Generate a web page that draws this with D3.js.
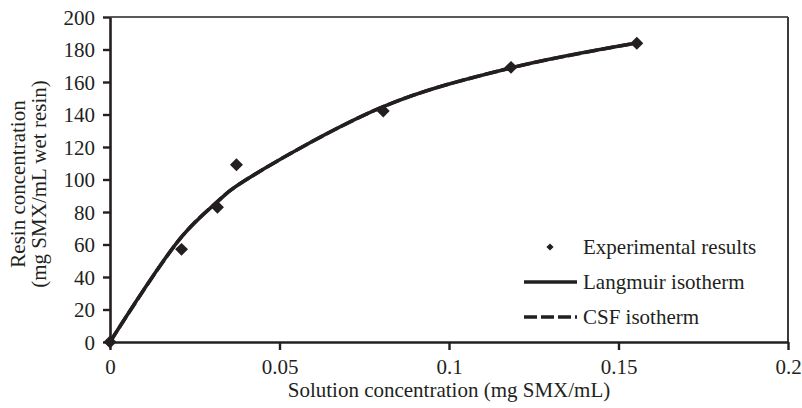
<!DOCTYPE html>
<html>
<head>
<meta charset="utf-8">
<script src="https://cdn.jsdelivr.net/npm/d3@7/dist/d3.min.js"></script>
<style>
  html, body { margin: 0; padding: 0; background: #fff; }
  svg { display: block; }
  text { font-family: "Liberation Serif", "Times New Roman", serif; fill: #231f20; }
</style>
</head>
<body>
<svg id="chart" width="802" height="408"></svg>
<script>
// Sorption of SMX on resin: measured points and fitted isotherms
const solutionConc = [0, 0.0211, 0.0317, 0.0373, 0.0806, 0.1183, 0.1554];
const experimental = [0, 57.0, 82.9, 109.1, 142.2, 169.0, 183.8];
const langmuir     = [0, 64.7, 86.4, 96.0, 144.8, 168.7, 184.0];
const csf          = [0, 64.7, 86.4, 96.0, 144.8, 168.7, 184.0];

const xTicks = [0, 0.05, 0.1, 0.15, 0.2];
const xTickLabels = ["0", "0.05", "0.1", "0.15", "0.2"];
const yTicks = [0, 20, 40, 60, 80, 100, 120, 140, 160, 180, 200];

const legendItems = ["Experimental results", "Langmuir isotherm", "CSF isotherm"];

const ink = "#231f20";
const svg = d3.select("#chart");

const plot = { left: 110, right: 788, top: 17, bottom: 342 };

const x = d3.scaleLinear().domain([0, 0.2]).range([plot.left, plot.right]);
const y = d3.scaleLinear().domain([0, 200]).range([plot.bottom, plot.top]);

// frame: top and right edges
svg.append("line")
  .attr("x1", plot.left).attr("x2", plot.right)
  .attr("y1", plot.top).attr("y2", plot.top)
  .attr("stroke", "#5a5a5a").attr("stroke-width", 2);
svg.append("line")
  .attr("x1", plot.right).attr("x2", plot.right)
  .attr("y1", plot.top).attr("y2", plot.bottom)
  .attr("stroke", "#3a3a3a").attr("stroke-width", 2);

// axes
const xAxis = d3.axisBottom(x)
  .tickValues(xTicks)
  .tickFormat((d, i) => xTickLabels[i])
  .tickSizeInner(8).tickSizeOuter(0).tickPadding(9);
const yAxis = d3.axisLeft(y)
  .tickValues(yTicks)
  .tickFormat(d3.format("d"))
  .tickSizeInner(7).tickSizeOuter(0).tickPadding(8);

const gx = svg.append("g")
  .attr("transform", `translate(0,${plot.bottom})`)
  .call(xAxis);
const gy = svg.append("g")
  .attr("transform", `translate(${plot.left},0)`)
  .call(yAxis);

[gx, gy].forEach(g => {
  g.select(".domain").attr("stroke", ink).attr("stroke-width", 2.6);
  g.selectAll(".tick line").attr("stroke", ink).attr("stroke-width", 2.4);
  g.selectAll(".tick text")
    .style("font-family", '"Liberation Serif", "Times New Roman", serif')
    .style("font-size", "21px")
    .attr("fill", ink);
});
gy.selectAll(".tick text").attr("dy", "0.34em");

// axis titles
svg.append("text")
  .attr("x", (plot.left + plot.right) / 2)
  .attr("y", 397)
  .attr("text-anchor", "middle")
  .style("font-size", "21px")
  .text("Solution concentration (mg SMX/mL)");

const yTitle = svg.append("text")
  .attr("transform", `translate(0,184) rotate(-90)`)
  .attr("text-anchor", "middle")
  .style("font-size", "21px");
yTitle.append("tspan").attr("x", 0).attr("y", 25).text("Resin concentration");
yTitle.append("tspan").attr("x", 0).attr("y", 46).text("(mg SMX/mL wet resin)");

// fitted curves
const lineGen = d3.line()
  .x((d, i) => x(solutionConc[i]))
  .y(d => y(d))
  .curve(d3.curveCatmullRom.alpha(0.5));

svg.append("path")
  .datum(csf)
  .attr("d", lineGen)
  .attr("fill", "none")
  .attr("stroke", ink)
  .attr("stroke-width", 3.5)
  .attr("stroke-dasharray", "13,4");

svg.append("path")
  .datum(langmuir)
  .attr("d", lineGen)
  .attr("fill", "none")
  .attr("stroke", ink)
  .attr("stroke-width", 3.6)
  .attr("stroke-linejoin", "round");

// experimental points (diamonds)
const diamond = d3.symbol().type(d3.symbolSquare).size(84);
svg.append("g")
  .selectAll("path")
  .data(experimental)
  .join("path")
  .attr("d", diamond)
  .attr("transform", (d, i) => `translate(${x(solutionConc[i])},${y(d)}) rotate(45)`)
  .attr("fill", ink);

// legend
const legend = svg.append("g");
const legendRows = [247, 282, 317];
const keyLeft = 524, keyRight = 577, textX = 583;

legend.append("path")
  .attr("d", d3.symbol().type(d3.symbolSquare).size(26)())
  .attr("transform", `translate(${(keyLeft + keyRight) / 2 - 0.5},${legendRows[0]}) rotate(45)`)
  .attr("fill", ink);
legend.append("line")
  .attr("x1", keyLeft).attr("x2", keyRight)
  .attr("y1", legendRows[1]).attr("y2", legendRows[1])
  .attr("stroke", ink).attr("stroke-width", 3.6);
legend.append("line")
  .attr("x1", keyLeft).attr("x2", keyRight)
  .attr("y1", legendRows[2]).attr("y2", legendRows[2])
  .attr("stroke", ink).attr("stroke-width", 3.6)
  .attr("stroke-dasharray", "13,4");

legend.selectAll("text")
  .data(legendItems)
  .join("text")
  .attr("x", textX)
  .attr("y", (d, i) => legendRows[i])
  .attr("dy", "0.34em")
  .style("font-size", "21px")
  .text(d => d);
</script>
</body>
</html>
